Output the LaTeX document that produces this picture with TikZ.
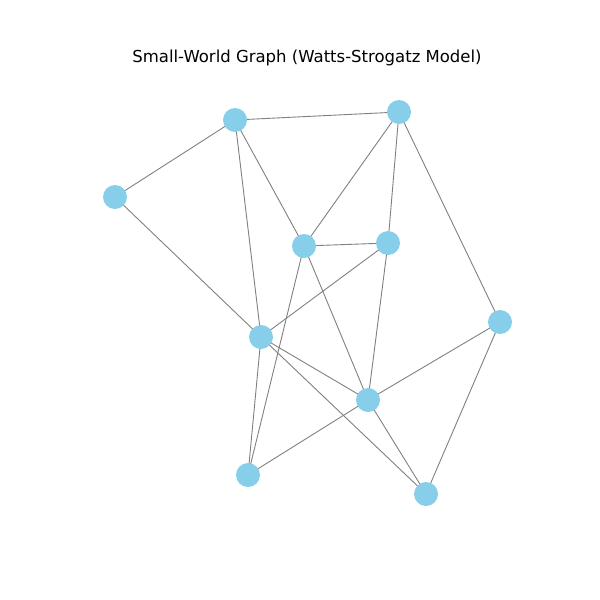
\documentclass[tikz,border=0pt]{standalone}
\usepackage{fontspec}
\setmainfont{DejaVu Sans}
\definecolor{sky}{HTML}{87CEEB}
\definecolor{edg}{HTML}{808080}
\begin{document}
\begin{tikzpicture}[x=1pt,y=-1pt,
  vtx/.style={circle,fill=sky,inner sep=0pt,minimum size=24pt},
  edge/.style={draw=edg,line width=0.9pt}]
\useasboundingbox (0,0) rectangle (600,600);
\node[font=\fontsize{16.5}{18}\selectfont] (title) at (307,58) {Small-World Graph (Watts-Strogatz Model)};
\coordinate (A) at (235,120);
\coordinate (B) at (399,112);
\coordinate (C) at (115,197);
\coordinate (D) at (304,246);
\coordinate (E) at (388,243);
\coordinate (F) at (261,337);
\coordinate (G) at (500,322);
\coordinate (H) at (368,400);
\coordinate (I) at (248,475);
\coordinate (J) at (426,494);
\foreach \a/\b in {A/B,A/C,A/D,A/F,B/D,B/E,B/G,C/F,D/E,D/I,D/H,E/F,E/H,F/H,F/I,F/J,G/H,G/J,H/I,H/J}
  \draw[edge] (\a) -- (\b);
\foreach \n in {A,B,C,D,E,F,G,H,I,J}
  \node[vtx] (n\n) at (\n) {};
\end{tikzpicture}
\end{document}
